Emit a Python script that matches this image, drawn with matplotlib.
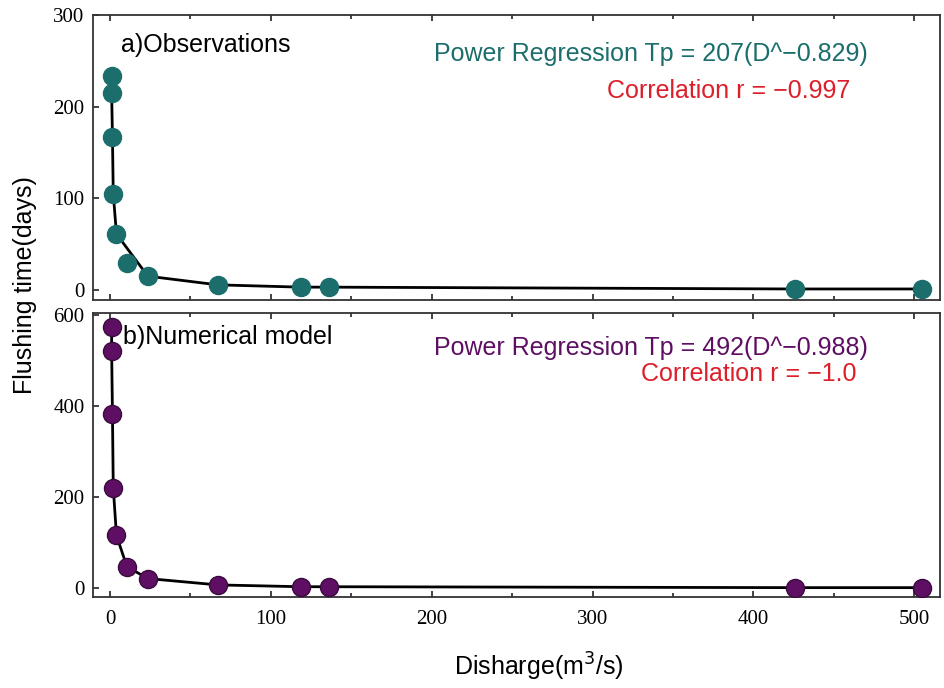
import numpy as np
import matplotlib
matplotlib.use("Agg")
import matplotlib.pyplot as plt
from matplotlib.ticker import MultipleLocator

# discharge (m3/s) and flushing time (days)
discharge = [1.0, 1.0, 1.5, 2.0, 4.0, 10.5, 23.5, 67, 118.5, 136, 426, 505]
obs_days = [234, 215, 167, 105, 61, 29, 15, 5.5, 3, 3, 1, 1]
model_days = [574, 521, 384, 221, 116, 47, 21, 7, 3, 3, 1, 1]

# the observation curve does not pass through the 6th point
obs_line_idx = [0, 1, 2, 3, 4, 6, 7, 8, 9, 10, 11]
model_line_idx = list(range(len(discharge)))

obs_fit = "Power Regression Tp = 207(D^\u22120.829)"
obs_corr = "Correlation r = \u22120.997"
model_fit = "Power Regression Tp = 492(D^\u22120.988)"
model_corr = "Correlation r = \u22121.0"

teal = "#1b6e6c"
purple = "#5e0f63"
red = "#dc1f2b"

plt.rcParams["font.family"] = ["Liberation Sans", "DejaVu Sans"]

fig = plt.figure(figsize=(9.45, 6.88), dpi=100)
ax1 = fig.add_axes([0.0984, 0.564, 0.8963, 0.414])
ax2 = fig.add_axes([0.0984, 0.132, 0.8963, 0.413])

panels = [
    (ax1, obs_days, obs_line_idx, teal, teal, (-11, 300), 100),
    (ax2, model_days, model_line_idx, purple, "#3a0a3d", (-20, 605), 200),
]

x = np.array(discharge)
for ax, ys, idx, col, ecol, ylim, ystep in panels:
    ys = np.array(ys)
    ax.plot(x[idx], ys[idx], color="black", lw=2, zorder=2)
    ax.plot(x, ys, ls="", marker="o", ms=13, color=col, mec=ecol, mew=1, zorder=3)
    ax.set_xlim(-10.6, 516)
    ax.set_ylim(*ylim)
    ax.yaxis.set_major_locator(MultipleLocator(ystep))
    ax.xaxis.set_major_locator(MultipleLocator(100))
    ax.xaxis.set_minor_locator(MultipleLocator(50))
    ax.tick_params(axis="both", which="both", direction="in", top=True, labelsize=15,
                   length=4, width=1.2, color="#222222")
    ax.tick_params(axis="x", which="minor", length=3)
    ax.tick_params(axis="x", pad=9)
    ax.tick_params(axis="y", pad=6)
    for lab in ax.get_xticklabels() + ax.get_yticklabels():
        lab.set_family(["Liberation Serif", "DejaVu Serif"])
    for sp in ax.spines.values():
        sp.set_linewidth(1.3)
        sp.set_color("#333333")

ax1.tick_params(axis="x", labelbottom=False)

ax1.text(0.033, 0.895, "a)Observations", transform=ax1.transAxes, fontsize=18, va="center")
ax1.text(0.915, 0.865, obs_fit, transform=ax1.transAxes, fontsize=18, color=teal, ha="right", va="center")
ax1.text(0.894, 0.735, obs_corr, transform=ax1.transAxes, fontsize=18, color=red, ha="right", va="center")

ax2.text(0.035, 0.915, "b)Numerical model", transform=ax2.transAxes, fontsize=18, va="center")
ax2.text(0.915, 0.876, model_fit, transform=ax2.transAxes, fontsize=18, color=purple, ha="right", va="center")
ax2.text(0.901, 0.785, model_corr, transform=ax2.transAxes, fontsize=18, color=red, ha="right", va="center")

fig.text(0.026, 0.586, "Flushing time(days)", rotation=90, fontsize=18, ha="center", va="center")
fig.text(0.57, 0.03, "Disharge(m$^3$/s)", fontsize=18, ha="center", va="center")

fig.savefig("out.png", dpi=100)
